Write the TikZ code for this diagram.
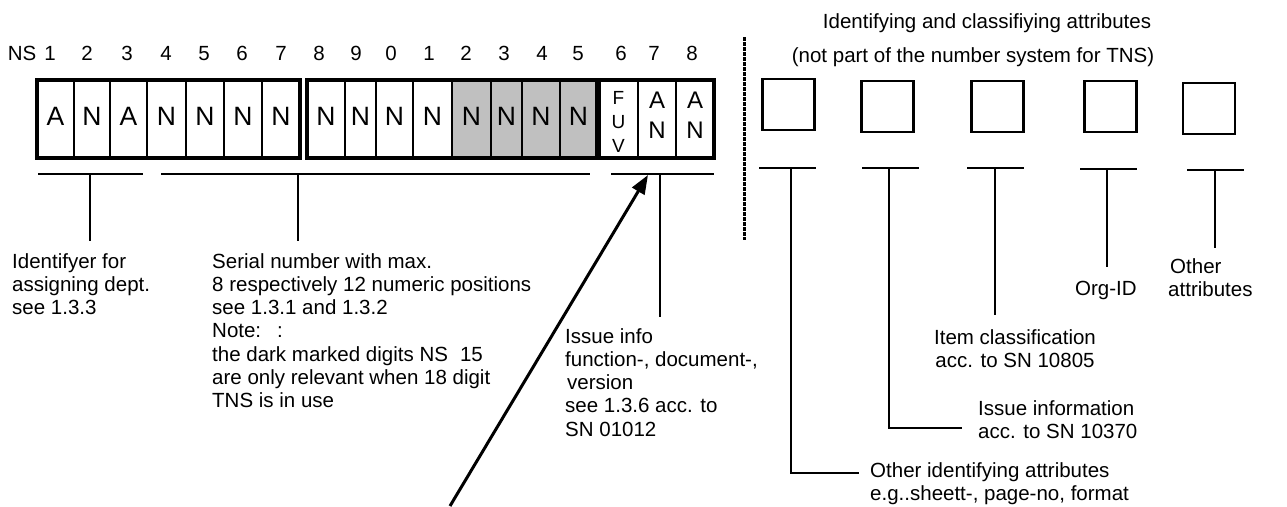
\documentclass[tikz,border=0pt]{standalone}
\usepackage{fontspec}
\setmainfont{Liberation Sans}
\usetikzlibrary{arrows.meta}
\definecolor{cellgray}{HTML}{C0C0C0}
\begin{document}
\begin{tikzpicture}[x=1pt,y=-1pt,
  cell/.style={draw, line width=2.3pt, minimum height=78pt, inner sep=0pt},
  grp/.style={draw, line width=3.2pt},
  bigl/.style={font=\fontsize{26.5}{28}\selectfont, inner sep=0pt},
  fuvl/.style={font=\fontsize{19}{24}\selectfont, inner sep=0pt, align=center},
  anl/.style={font=\fontsize{24}{30}\selectfont, inner sep=0pt, align=center},
  num/.style={font=\fontsize{20.5}{23}\selectfont, inner sep=0pt, anchor=base},
  txt/.style={font=\fontsize{20.5}{23.3}\selectfont, inner sep=0pt, align=left, anchor=north west},
  attrbox/.style={draw, line width=2.6pt, inner sep=0pt, minimum width=52pt, minimum height=51pt},
  lead/.style={line width=2.2pt},
  ptr/.style={line width=3pt, -{Triangle[length=19pt,width=14pt]}}
]
\useasboundingbox (0,0) rectangle (1287,506);

% ---- cells ----
\foreach \a/\b/\f [count=\i] in {37/74/white,74/110/white,110/147/white,147/186/white,186/224/white,224/262/white,262/300/white,
  307/345/white,345/376/white,376/413/white,413/452/white,452/491/cellgray,491/522/cellgray,522/560/cellgray,560/597/cellgray,
  599/638/white,638/676/white,676/714/white}
  \node[cell, fill=\f, minimum width={(\b-\a)*1pt}] (c\i) at ({(\a+\b)/2},119) {};

\draw[grp] (37,80) rectangle (300,158);
\draw[grp] (307,80) rectangle (597,158);
\draw[grp] (599,80) rectangle (714,158);

\foreach \t [count=\i] in {A,N,A,N,N,N,N,N,N,N,N,N,N,N,N}
  \node[bigl] (l\i) at ([yshift=3pt]c\i.center) {\t};
\node[fuvl] (l16) at ([yshift=-3pt]c16.center) {F\\U\\V};
\node[anl] (l17) at ([yshift=4pt]c17.center) {A\\N};
\node[anl] (l18) at ([yshift=4pt]c18.center) {A\\N};

% ---- position numbers ----
\node[num] (ns) at (22,60) {NS};
\foreach \x/\t [count=\i] in {50/1,87/2,127/3,166/4,204/5,242/6,281/7,319/8,356/9,391/0,429/1,466/2,504/3,542/4,578/5,621/6,654/7,692/8}
  \node[num] (n\i) at (\x,60) {\t};

% ---- brackets below the number ----
\coordinate (b1l) at (38,174);  \coordinate (b1r) at (143,174);
\coordinate (b1t) at (90,174);  \coordinate (b1b) at (90,241);
\coordinate (b2l) at (161,174); \coordinate (b2r) at (590,174);
\coordinate (b2t) at (298,174); \coordinate (b2b) at (298,241);
\coordinate (b3l) at (611,174); \coordinate (b3r) at (714,174);
\coordinate (b3t) at (660,174); \coordinate (b3b) at (660,317);
\draw[lead] (b1l) -- (b1r); \draw[lead] (b1t) -- (b1b);
\draw[lead] (b2l) -- (b2r); \draw[lead] (b2t) -- (b2b);
\draw[lead] (b3l) -- (b3r); \draw[lead] (b3t) -- (b3b);

% ---- texts below the number ----
\node[txt] (idf) at (12,253) {Identifyer for\\assigning dept.\\see 1.3.3};
\node[txt] (ser) at (212,253) {Serial number with max.\\8 respectively 12 numeric positions\\see 1.3.1 and 1.3.2\\Note:\hspace{16pt}:\\the dark marked digits NS\hspace{12pt}15\\are only relevant when 18 digit\\TNS is in use};
\node[txt] (iss) at (565,328) {Issue info\\function-, document-,\\\hspace{2pt}version\\see 1.3.6 acc. to\\SN 01012};

% ---- pointer arrow ----
\coordinate (ptrS) at (450,506);
\coordinate (ptrE) at (648,175);
\draw[ptr] (ptrS) -- (ptrE);

% ---- separator ----
\coordinate (sepT) at (744,37);
\coordinate (sepB) at (744,240);
\draw[line width=3pt, dash pattern=on 4pt off 1pt] (sepT) -- (sepB);

% ---- right side ----
\node[num, anchor=north] (tit1) at (987,13) {Identifying and classifiying attributes};
\node[num, anchor=north] (tit2) at (973,47) {(not part of the number system for TNS)};

\node[attrbox] (a1) at (788.5,104.5) {};
\node[attrbox] (a2) at (887.5,106.5) {};
\node[attrbox] (a3) at (997.5,106.5) {};
\node[attrbox] (a4) at (1110.5,106.5) {};
\node[attrbox] (a5) at (1209,108.5) {};

\coordinate (t1l) at (759,168);  \coordinate (t1r) at (816,168);  \coordinate (t1s) at (791,168);
\coordinate (t2l) at (862,168);  \coordinate (t2r) at (919,168);  \coordinate (t2s) at (889,168);
\coordinate (t3l) at (967,168);  \coordinate (t3r) at (1024,168); \coordinate (t3s) at (995,168);
\coordinate (t4l) at (1080,169); \coordinate (t4r) at (1137,169); \coordinate (t4s) at (1107,169);
\coordinate (t5l) at (1187,170); \coordinate (t5r) at (1244,170); \coordinate (t5s) at (1215,170);
\foreach \i in {1,...,5} \draw[lead] (t\i l) -- (t\i r);

\node[txt] (oia) at (870,462) {Other identifying attributes\\e.g..sheett-, page-no, format};
\node[txt] (isi) at (978,400) {Issue information\\acc. to SN 10370};
\node[txt, anchor=north, align=center] (itc) at (1015,329) {Item classification\\acc. to SN 10805};
\node[txt] (org) at (1075,281) {Org-ID};
\node[txt] (oth) at (1168,258) {\hspace{2pt}Other\\attributes};

\coordinate (e1) at (791,473); \coordinate (e1b) at (859,473);
\coordinate (e2) at (889,428); \coordinate (e2b) at (962,428);
\coordinate (e3) at (995,315);
\coordinate (e4) at (1107,267);
\coordinate (e5) at (1215,248);
\draw[lead] (t1s) -- (e1) -- (e1b);
\draw[lead] (t2s) -- (e2) -- (e2b);
\draw[lead] (t3s) -- (e3);
\draw[lead] (t4s) -- (e4);
\draw[lead] (t5s) -- (e5);
\end{tikzpicture}
\end{document}
